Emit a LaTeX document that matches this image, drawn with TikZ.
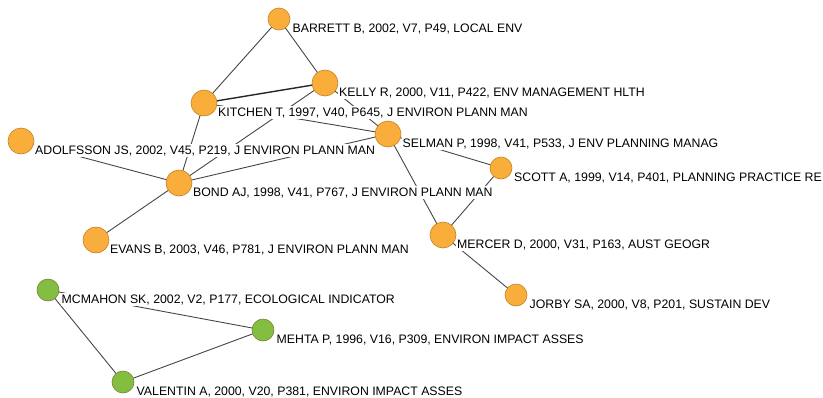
\documentclass[tikz,border=0pt]{standalone}
\usepackage{fontspec}
\setmainfont{Liberation Sans}
\definecolor{orfill}{RGB}{249,173,58}
\definecolor{ordraw}{RGB}{196,130,40}
\definecolor{grfill}{RGB}{132,190,64}
\definecolor{grdraw}{RGB}{120,130,60}
\definecolor{edgec}{RGB}{70,70,70}
\begin{document}
\begin{tikzpicture}[x=1pt,y=-1pt,
  onode/.style={circle,fill=orfill,draw=ordraw,line width=0.6pt,inner sep=0pt},
  gnode/.style={circle,fill=grfill,draw=grdraw,line width=0.6pt,inner sep=0pt},
  big/.style={minimum size=26pt},
  small/.style={minimum size=22pt},
  lab/.style={anchor=base west,fill=white,inner sep=1pt,font=\fontsize{12.3}{14}\selectfont},
  edge/.style={draw=edgec,line width=0.9pt},
  strong/.style={draw=black!85,line width=1.4pt}]
\useasboundingbox (0,0) rectangle (823,397);
% node coordinates
\coordinate (barrett) at (279,19);
\coordinate (kelly) at (325,83);
\coordinate (kitchen) at (204,103);
\coordinate (adolfsson) at (21,141);
\coordinate (selman) at (388,134);
\coordinate (scott) at (501,168);
\coordinate (bond) at (179,183);
\coordinate (mercer) at (443,235);
\coordinate (evans) at (96,240);
\coordinate (jorby) at (516,295);
\coordinate (mcmahon) at (48,290);
\coordinate (mehta) at (263,330);
\coordinate (valentin) at (123,382);
% edges
\draw[edge] (barrett) -- (kelly);
\draw[edge] (barrett) -- (kitchen);
\draw[strong] (kitchen) -- (kelly);
\draw[edge] (kitchen) -- (selman);
\draw[edge] (kelly) -- (selman);
\draw[edge] (kelly) -- (bond);
\draw[edge] (kitchen) -- (bond);
\draw[edge] (adolfsson) -- (bond);
\draw[edge] (bond) -- (selman);
\draw[edge] (bond) -- (evans);
\draw[edge] (selman) -- (scott);
\draw[edge] (selman) -- (mercer);
\draw[edge] (scott) -- (mercer);
\draw[edge] (mercer) -- (jorby);
\draw[edge] (mcmahon) -- (mehta);
\draw[edge] (mcmahon) -- (valentin);
\draw[edge] (valentin) -- (mehta);
% labels
\node[lab] (barrettL) at ([shift={(12.5,13)}]barrett) {BARRETT B, 2002, V7, P49, LOCAL ENV};
\node[lab] (kellyL) at ([shift={(13,13)}]kelly) {KELLY R, 2000, V11, P422, ENV MANAGEMENT HLTH};
\node[lab] (kitchenL) at ([shift={(13,13)}]kitchen) {KITCHEN T, 1997, V40, P645, J ENVIRON PLANN MAN};
\node[lab] (adolfssonL) at ([shift={(13,13)}]adolfsson) {ADOLFSSON JS, 2002, V45, P219, J ENVIRON PLANN MAN};
\node[lab] (selmanL) at ([shift={(13.5,13)}]selman) {SELMAN P, 1998, V41, P533, J ENV PLANNING MANAG};
\node[lab] (scottL) at ([shift={(12,13)}]scott) {SCOTT A, 1999, V14, P401, PLANNING PRACTICE RE};
\node[lab] (bondL) at ([shift={(13,13)}]bond) {BOND AJ, 1998, V41, P767, J ENVIRON PLANN MAN};
\node[lab] (mercerL) at ([shift={(13,13)}]mercer) {MERCER D, 2000, V31, P163, AUST GEOGR};
\node[lab] (evansL) at ([shift={(13,13)}]evans) {EVANS B, 2003, V46, P781, J ENVIRON PLANN MAN};
\node[lab] (jorbyL) at ([shift={(12.5,13)}]jorby) {JORBY SA, 2000, V8, P201, SUSTAIN DEV};
\node[lab] (mcmahonL) at ([shift={(12.5,13)}]mcmahon) {MCMAHON SK, 2002, V2, P177, ECOLOGICAL INDICATOR};
\node[lab] (mehtaL) at ([shift={(12.5,13)}]mehta) {MEHTA P, 1996, V16, P309, ENVIRON IMPACT ASSES};
\node[lab] (valentinL) at ([shift={(12.5,13)}]valentin) {VALENTIN A, 2000, V20, P381, ENVIRON IMPACT ASSES};
% circles
\node[onode,small] (barrettN) at (barrett) {};
\node[onode,big] (kellyN) at (kelly) {};
\node[onode,big] (kitchenN) at (kitchen) {};
\node[onode,big] (adolfssonN) at (adolfsson) {};
\node[onode,big] (selmanN) at (selman) {};
\node[onode,small] (scottN) at (scott) {};
\node[onode,big] (bondN) at (bond) {};
\node[onode,big] (mercerN) at (mercer) {};
\node[onode,big] (evansN) at (evans) {};
\node[onode,small] (jorbyN) at (jorby) {};
\node[gnode,small] (mcmahonN) at (mcmahon) {};
\node[gnode,small] (mehtaN) at (mehta) {};
\node[gnode,small] (valentinN) at (valentin) {};
\end{tikzpicture}
\end{document}
